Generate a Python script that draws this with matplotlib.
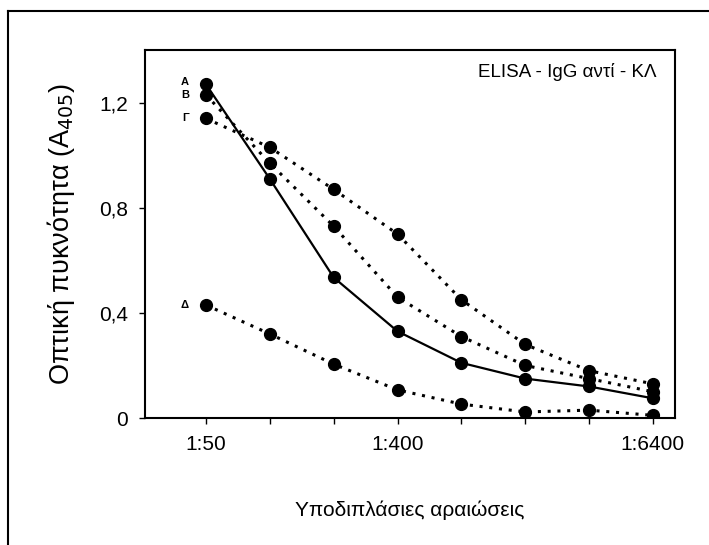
import matplotlib.pyplot as plt
from matplotlib.lines import Line2D

# dilutions (1:x) and optical density A405 per serum
dilutions = [50, 100, 200, 400, 800, 1600, 3200, 6400]
tick_labels = ['1:50', '', '', '1:400', '', '', '', '1:6400']
series_A = [1.27, 0.91, 0.535, 0.33, 0.21, 0.15, 0.12, 0.075]
series_B = [1.23, 0.97, 0.73, 0.46, 0.31, 0.20, 0.15, 0.10]
series_G = [1.14, 1.03, 0.87, 0.70, 0.45, 0.28, 0.18, 0.13]
series_D = [0.43, 0.32, 0.205, 0.107, 0.053, 0.023, 0.03, 0.01]
series_names = ['A', 'B', 'Γ', 'Δ']

plt.rcParams['font.family'] = ['Liberation Sans', 'DejaVu Sans']

fig = plt.figure(figsize=(7.09, 5.45), dpi=100)
ax = fig.add_axes([0.2045, 0.233, 0.7475, 0.675])

mk = dict(marker='o', markersize=8.5, color='black', markeredgecolor='black')
ax.plot(dilutions, series_A, linestyle='-', linewidth=1.6, **mk)
ax.plot(dilutions, series_B, linestyle=(0, (1, 2.2)), linewidth=2.2, **mk)
ax.plot(dilutions, series_G, linestyle=(0, (1, 2.2)), linewidth=2.2, **mk)
ax.plot(dilutions, series_D, linestyle=(0, (1, 2.2)), linewidth=2.2, **mk)

# small letter tags left of the first points
for name, vals, dy in zip(series_names, [series_A, series_B, series_G, series_D],
                          [0.01, 0.0, 0.0, 0.0]):
    ax.text(dilutions[0] * 0.83, vals[0] + dy, name, fontsize=8, fontweight='bold',
            ha='right', va='center')

ax.set_xscale('log', base=2)
ax.set_xlim(25.8, 8130)
ax.set_ylim(0, 1.4)
ax.set_xticks(dilutions)
ax.set_xticklabels(tick_labels)
ax.minorticks_off()
ax.set_yticks([0, 0.4, 0.8, 1.2])
ax.set_yticklabels(['0', '0,4', '0,8', '1,2'])
ax.tick_params(axis='both', direction='out', length=4, width=1.0, labelsize=15, pad=8)

for s in ax.spines.values():
    s.set_linewidth(1.5)

ax.set_ylabel('Οπτική πυκνότητα (A$_{405}$)', fontsize=19.5, labelpad=16)
ax.set_xlabel('Υποδιπλάσιες αραιώσεις', fontsize=15, labelpad=34)

ax.text(0.965, 0.94, 'ELISA - IgG αντί - ΚΛ', transform=ax.transAxes,
        fontsize=13.5, ha='right', va='center')

# outer frame (cropped on right and bottom)
fig.add_artist(Line2D([0.0113, 0.0113], [0.0, 0.98], transform=fig.transFigure,
                      color='black', linewidth=1.5))
fig.add_artist(Line2D([0.0113, 1.0], [0.98, 0.98], transform=fig.transFigure,
                      color='black', linewidth=1.5))

fig.savefig('out.png', dpi=100)
